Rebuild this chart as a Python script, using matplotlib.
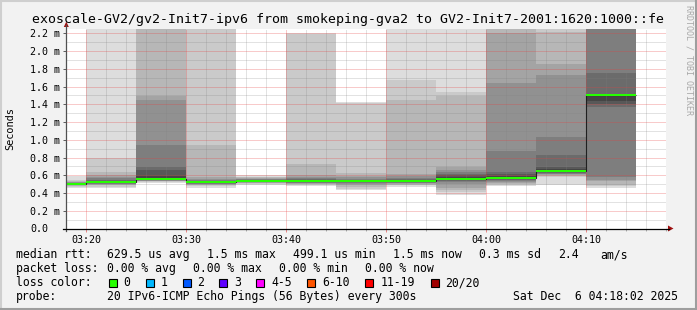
import matplotlib
matplotlib.use("Agg")
import matplotlib.pyplot as plt
from matplotlib.patches import Rectangle, Polygon
from matplotlib.lines import Line2D
import numpy as np

# ---------------- data ----------------
interval_starts = ["03:15", "03:20", "03:25", "03:30", "03:35", "03:40",
                   "03:45", "03:50", "03:55", "04:00", "04:05", "04:10"]
step_min = 5
# 20 sorted ping rtts (ms) per 5-minute interval
ping_0315 = [0.455, 0.47, 0.48, 0.485, 0.49, 0.492, 0.494, 0.496, 0.498, 0.499,
             0.501, 0.503, 0.506, 0.51, 0.515, 0.52, 0.528, 0.535, 0.545, 0.595]
ping_0320 = [0.46, 0.472, 0.485, 0.495, 0.50, 0.505, 0.51, 0.514, 0.518, 0.521,
             0.524, 0.53, 0.54, 0.55, 0.565, 0.585, 0.605, 0.639, 0.796, 2.6]
ping_0325 = [0.515, 0.525, 0.53, 0.535, 0.54, 0.545, 0.548, 0.551, 0.554, 0.556,
             0.565, 0.595, 0.655, 0.695, 0.94, 1.447, 1.493, 2.5, 2.6, 2.7]
ping_0330 = [0.46, 0.475, 0.485, 0.495, 0.50, 0.505, 0.51, 0.514, 0.518, 0.521,
             0.524, 0.528, 0.533, 0.54, 0.55, 0.56, 0.575, 0.94, 2.5, 2.6]
ping_0335 = [0.49, 0.50, 0.508, 0.514, 0.519, 0.523, 0.527, 0.531, 0.534, 0.536,
             0.538, 0.541, 0.545, 0.55, 0.555, 0.56, 0.567, 0.575, 0.585, 0.60]
ping_0340 = [0.475, 0.488, 0.498, 0.506, 0.512, 0.518, 0.523, 0.528, 0.532, 0.536,
             0.539, 0.543, 0.548, 0.555, 0.565, 0.58, 0.605, 0.725, 2.19, 2.2]
ping_0345 = [0.435, 0.45, 0.47, 0.49, 0.505, 0.515, 0.522, 0.527, 0.531, 0.534,
             0.537, 0.54, 0.545, 0.55, 0.56, 0.575, 0.595, 0.625, 1.42, 1.428]
ping_0350 = [0.47, 0.485, 0.495, 0.505, 0.512, 0.518, 0.523, 0.527, 0.531, 0.534,
             0.537, 0.541, 0.547, 0.555, 0.57, 0.59, 0.62, 1.447, 1.673, 2.6]
ping_0355 = [0.376, 0.41, 0.432, 0.46, 0.50, 0.526, 0.535, 0.543, 0.55, 0.555,
             0.565, 0.58, 0.60, 0.62, 0.64, 0.658, 0.695, 1.493, 1.541, 2.6]
ping_0400 = [0.477, 0.49, 0.50, 0.51, 0.526, 0.54, 0.55, 0.557, 0.563, 0.568,
             0.58, 0.595, 0.615, 0.64, 0.872, 1.636, 2.2, 2.5, 2.6, 2.7]
ping_0405 = [0.494, 0.585, 0.59, 0.60, 0.61, 0.615, 0.625, 0.632, 0.638, 0.644,
             0.66, 0.675, 0.695, 0.827, 1.033, 1.73, 1.85, 2.21, 2.6, 2.7]
ping_0410 = [0.458, 0.48, 0.496, 0.534, 0.55, 0.582, 1.365, 1.40, 1.44, 1.50,
             1.506, 1.508, 1.512, 1.755, 2.5, 2.55, 2.6, 2.65, 2.7, 2.75]
pings = [ping_0315, ping_0320, ping_0325, ping_0330, ping_0335, ping_0340,
         ping_0345, ping_0350, ping_0355, ping_0400, ping_0405, ping_0410]
median_ms = [0.499, 0.522, 0.556, 0.522, 0.537, 0.537,
             0.534, 0.534, 0.556, 0.571, 0.646, 1.504]

y_ticks = [0.0, 0.2, 0.4, 0.6, 0.8, 1.0, 1.2, 1.4, 1.6, 1.8, 2.0, 2.2]
y_tick_labels = ["0.0", "0.2 m", "0.4 m", "0.6 m", "0.8 m", "1.0 m",
                 "1.2 m", "1.4 m", "1.6 m", "1.8 m", "2.0 m", "2.2 m"]
x_tick_labels = ["03:20", "03:30", "03:40", "03:50", "04:00", "04:10"]
t_start, t_end = "03:18:02", "04:18:02"
y_max = 2.249

loss_labels = ["0", "1", "2", "3", "4-5", "6-10", "11-19", "20/20"]
loss_colors = ["#26ff00", "#00b8ff", "#0059ff", "#5e00ff",
               "#ff00ff", "#ff5500", "#ff0000", "#a10000"]

title = "exoscale-GV2/gv2-Init7-ipv6 from smokeping-gva2 to GV2-Init7-2001:1620:1000::fe"


def to_min(s):
    parts = [int(p) for p in s.split(":")]
    m = parts[0] * 60 + parts[1]
    if len(parts) > 2:
        m += parts[2] / 60.0
    return m


# ---------------- figure ----------------
W, H = 697, 310
BG = "#f2f2f2"
MONO = "DejaVu Sans Mono"
fig = plt.figure(figsize=(W / 100, H / 100), dpi=100, facecolor=BG)

L, R, T, B = 66.3, 666.3, 29.0, 228.5
ax = fig.add_axes([L / W, 1 - B / H, (R - L) / W, (B - T) / H])
ax.set_facecolor("white")
ax.set_xlim(to_min(t_start), to_min(t_end))
ax.set_ylim(0, y_max)
for s in ax.spines.values():
    s.set_visible(False)

starts = np.array([to_min(s) for s in interval_starts], dtype=float)
P = np.array(pings)
med = np.array(median_ms)

# smoke: band k between ping k and ping 21-k
half = P.shape[1] // 2
for k in range(half):
    lvl = int(190 / half * (half - 1 - k)) + 50
    col = "#%02x%02x%02x" % (lvl, lvl, lvl)
    lo = P[:, k]
    hi = P[:, P.shape[1] - 1 - k]
    ax.bar(starts, hi - lo, bottom=lo, width=step_min, align="edge",
           color=col, linewidth=0, antialiased=False, zorder=1)

# grid
x0, x1 = to_min(t_start), to_min(t_end)
minor_x = [m for m in range(int(np.ceil(x0)), int(x1) + 1, 1) if m % 2 == 0 and m % 10 != 0]
major_x = [to_min(s) for s in x_tick_labels]
minor_y = [round(0.1 + 0.2 * i, 1) for i in range(12) if 0.1 + 0.2 * i < y_max]
dot = (0, (1, 1))
minor_c = (0.5, 0.5, 0.5, 0.45)
major_c = (0.9, 0.25, 0.25, 0.55)
for m in minor_x:
    ax.axvline(m, color=minor_c, lw=0.72, ls=dot, zorder=2, snap=True)
for yv in minor_y:
    ax.axhline(yv, color=minor_c, lw=0.72, ls=dot, zorder=2, snap=True)
for m in major_x:
    ax.axvline(m, color=major_c, lw=0.72, ls=dot, zorder=2, snap=True)
for yv in y_ticks[1:]:
    ax.axhline(yv, color=major_c, lw=0.72, ls=dot, zorder=2, snap=True)

# median line + loss colored band
edges = np.append(starts, starts[-1] + step_min)
sw = 1.1 / ((B - T) / y_max)  # about one pixel in data units
ax.stairs(med, edges, baseline=None, color="#202020", lw=0.8, zorder=3)
ax.stairs(med + sw, edges, baseline=med - sw, fill=True, color=loss_colors[0],
          linewidth=0, zorder=4)

# ticks
ax.set_yticks(y_ticks)
ax.set_yticklabels(y_tick_labels, fontfamily=MONO, fontsize=7.2, ha="left")
ax.tick_params(axis="y", length=2.2, width=0.72, color="#606060",
               pad=(L - 30) * 0.72 - 2.2)
ax.set_xticks(major_x)
ax.set_xticklabels(x_tick_labels, fontfamily=MONO, fontsize=7.2)
ax.tick_params(axis="x", length=2.2, width=0.72, color=(0.88, 0.25, 0.25, 0.6), pad=2.5)
ax.set_xticks(minor_x, minor=True)
ax.tick_params(axis="x", which="minor", length=1.5, width=0.72, color="#b0b0b0")


def fx(x):
    return x / W


def fy(y):
    return 1 - y / H


# axes lines with arrows
fig.add_artist(Line2D([fx(L), fx(L)], [fy(B + 2), fy(25)], color="#505050", lw=0.9))
fig.add_artist(Line2D([fx(L - 3), fx(669)], [fy(B), fy(B)], color="black", lw=0.9))
arrow_c = "#a01010"
fig.add_artist(Polygon([[fx(L - 2.5), fy(27)], [fx(L + 2.5), fy(27)], [fx(L), fy(21.5)]],
                       closed=True, color=arrow_c, lw=0))
fig.add_artist(Polygon([[fx(668), fy(B - 3)], [fx(668), fy(B + 3)], [fx(673.5), fy(B)]],
                       closed=True, color=arrow_c, lw=0))

# title & labels
fig.text(fx(348), fy(23.5), title, ha="center", va="baseline",
         fontfamily=MONO, fontsize=9.55)
fig.text(fx(10.5), fy(128.5), "Seconds", rotation=90, ha="center", va="center",
         fontfamily=MONO, fontsize=7.4)
fig.text(fx(688.5), fy(60), "RRDTOOL / TOBI OETIKER", rotation=270, ha="center",
         va="center", fontfamily=MONO, fontsize=6.0, color="#a8a8a8")

# legend rows
FS = 8.3
rows = [
    (258.3, [(16, "median rtt:"), (107.3, "629.5 us avg"), (207.3, "1.5 ms max"),
             (293.3, "499.1 us min"), (393.3, "1.5 ms now"), (479.3, "0.3 ms sd"),
             (558.3, "2.4"), (600, "am/s")]),
    (272.3, [(16, "packet loss:"), (107.3, "0.00 % avg"), (193.3, "0.00 % max"),
             (279.3, "0.00 % min"), (365, "0.00 % now")]),
    (286.3, [(16, "loss color:")]),
    (300.3, [(16, "probe:"), (107.3, "20 IPv6-ICMP Echo Pings (56 Bytes) every 300s"),
             (513.3, "Sat Dec  6 04:18:02 2025")]),
]
for yb, items in rows:
    for xx, s in items:
        fig.text(fx(xx), fy(yb), s, ha="left", va="baseline", fontfamily=MONO, fontsize=FS)

box_x = [108.7, 145.7, 182.7, 219.3, 256.3, 306.7, 365.3, 430.7]
lab_x = [123.3, 160.3, 197.3, 234.3, 271.0, 322.0, 380.7, 445.3]
for bx, lx, lab, c in zip(box_x, lab_x, loss_labels, loss_colors):
    fig.add_artist(Rectangle((fx(bx), fy(286.5)), 8 / W, 8 / H, facecolor=c,
                             edgecolor="black", lw=0.8))
    fig.text(fx(lx), fy(286.3), lab, ha="left", va="baseline", fontfamily=MONO, fontsize=FS)

# 3D frame
fig.add_artist(Line2D([0, 1], [fy(0.5), fy(0.5)], color="#cfcfcf", lw=1.5))
fig.add_artist(Line2D([fx(0.5), fx(0.5)], [0, 1], color="#cfcfcf", lw=1.5))
fig.add_artist(Line2D([0, 1], [fy(309), fy(309)], color="#9e9e9e", lw=1.5))
fig.add_artist(Line2D([fx(696), fx(696)], [0, 1], color="#9e9e9e", lw=1.5))

fig.savefig("out.png", dpi=100, facecolor=BG)
